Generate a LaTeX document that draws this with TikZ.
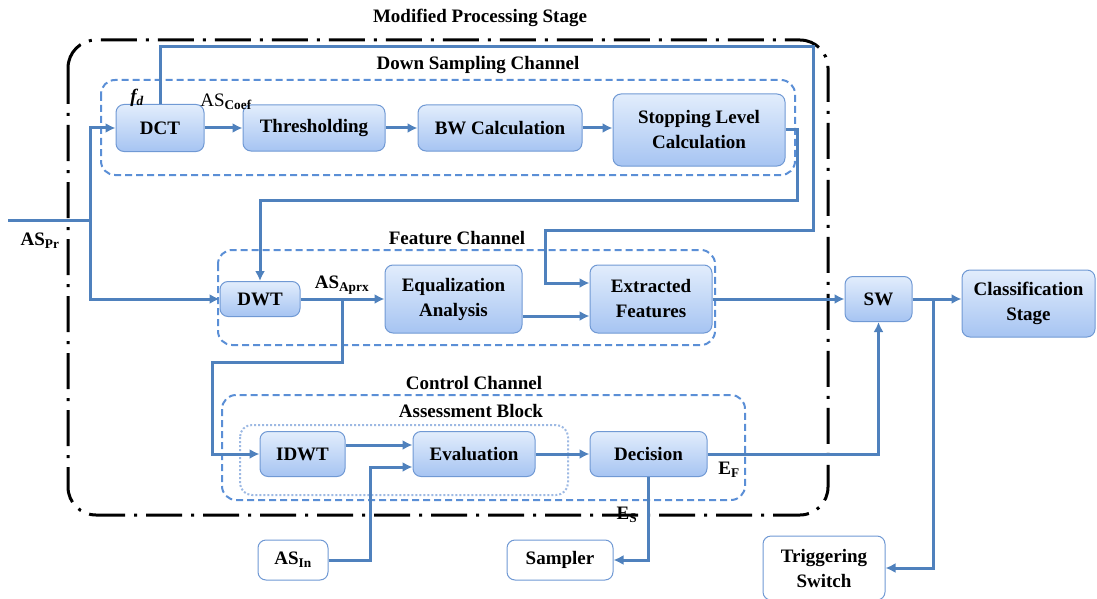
\documentclass[tikz,border=0pt]{standalone}
\usepackage{fontspec}
\setmainfont{Liberation Serif}
\usetikzlibrary{arrows.meta}
\definecolor{ln}{HTML}{4F81BD}
\definecolor{bx}{HTML}{7099D4}
\definecolor{dsh}{HTML}{5B8FD6}
\definecolor{dot}{HTML}{9DB9E3}
\definecolor{topc}{HTML}{E2EDFC}
\definecolor{botc}{HTML}{A6C4F2}
\newcommand{\fs}{\bfseries\fontsize{19}{25}\selectfont}
\begin{document}
\begin{tikzpicture}[x=1pt,y=-1pt,
  blk/.style={draw=bx, line width=1pt, rounded corners=8pt, top color=topc, bottom color=botc, font=\fs, align=center, inner sep=0pt},
  wblk/.style={draw=bx, line width=1pt, rounded corners=8pt, fill=white, font=\fs, align=center, inner sep=0pt},
  con/.style={draw=ln, line width=3pt},
  arr/.style={con, -{Latex[length=10pt,width=10pt]}},
  grp/.style={draw=dsh, line width=2pt, dash pattern=on 7pt off 4pt, rounded corners=14pt},
  lab/.style={font=\fs, inner sep=0pt}
]
\useasboundingbox (0,0) rectangle (1097,599);

% groups
\draw[black, line width=3pt, dash pattern=on 36pt off 9pt on 3pt off 9pt, rounded corners=28pt] (68,40) rectangle (828,515);
\draw[grp] (101,80) rectangle (795,175);
\draw[grp] (218,250) rectangle (715,345);
\draw[grp] (222,395) rectangle (745,500);
\draw[draw=dot, line width=2pt, dotted, rounded corners=12pt] (240,425) rectangle (568,495);

% labels
\node[lab] (tMPS) at (480,18) {Modified Processing Stage};
\node[lab] (tDSC) at (478,65) {Down Sampling Channel};
\node[lab] (tFC) at (457,238) {Feature Channel};
\node[lab] (tCC) at (474,383) {Control Channel};
\node[lab] (tAB) at (471,411) {Assessment Block};

% blocks
\node[blk, minimum width=88pt, minimum height=47pt] (DCT) at (160,128) {DCT};
\node[blk, minimum width=142pt, minimum height=46pt] (THR) at (314,128) {Thresholding};
\node[blk, minimum width=164pt, minimum height=46pt] (BW) at (500,128) {BW Calculation};
\node[blk, minimum width=172pt, minimum height=72pt] (SL) at (699,130) {Stopping Level\\Calculation};
\node[blk, minimum width=80pt, minimum height=35pt] (DWT) at (260,299) {DWT};
\node[blk, minimum width=137pt, minimum height=68pt] (EQ) at (453.5,299) {Equalization\\Analysis};
\node[blk, minimum width=122pt, minimum height=68pt] (EF) at (651,299) {Extracted\\Features};
\node[blk, minimum width=67pt, minimum height=45pt] (SW) at (878.5,299) {SW};
\node[blk, minimum width=133pt, minimum height=67pt] (CS) at (1028.5,303.5) {Classification\\Stage};
\node[blk, minimum width=85pt, minimum height=45pt] (IDWT) at (302.5,454) {IDWT};
\node[blk, minimum width=122pt, minimum height=45pt] (EV) at (474,454) {Evaluation};
\node[blk, minimum width=117pt, minimum height=45pt] (DEC) at (648.5,454) {Decision};
\node[wblk, minimum width=70pt, minimum height=40pt] (ASIN) at (293,560) {AS\textsubscript{In}};
\node[wblk, minimum width=106pt, minimum height=40pt] (SAM) at (560,560) {Sampler};
\node[wblk, minimum width=122pt, minimum height=64pt] (TS) at (824,568) {Triggering\\Switch};

% small labels
\node[lab, font=\fs\itshape] (lfd) at (137,98) {f\textsubscript{d}};
\node[lab, font=\fontsize{19}{25}\selectfont] (lcoef) at (226,102) {AS\textsubscript{\bfseries Coef}};
\node[lab] (lpr) at (40,241) {AS\textsubscript{Pr}};
\node[lab] (lap) at (342,285) {AS\textsubscript{Aprx}};
\node[lab] (lef) at (729,470) {E\textsubscript{F}};
\node[lab] (les) at (627,515) {E\textsubscript{S}};

% coordinates
\coordinate (in) at (8,220);
\coordinate (j) at (90,220);
\coordinate (c1) at (813,47);
\coordinate (c2) at (813,230);
\coordinate (c3) at (545,283);
\coordinate (s1) at (797,200);
\coordinate (b1) at (342,299);
\coordinate (b2) at (212,362);
\coordinate (e1) at (0,316);
\coordinate (i1) at (0,445);
\coordinate (a1) at (370,467);
\coordinate (sb) at (933,299);

% connectors
\draw[con] (in) -- (j);
\draw[arr] (j) |- (DCT.west);
\draw[arr] (j) |- (DWT.west);
\draw[arr] (DCT) -- (THR);
\draw[arr] (THR) -- (BW);
\draw[arr] (BW.east) -- (SL.west|-BW.east);
\draw[arr] (DCT.north) |- (c1) -- (c2) -| (c3) -- (EF.west|-c3);
\draw[arr] (SL.east) -| (s1) -| (DWT.north);
\draw[arr] (DWT) -- (EQ);
\draw[arr] (b1) |- (b2) |- (IDWT.west);
\draw[arr] (EQ.east|-e1) -- (EF.west|-e1);
\draw[arr] (EF) -- (SW);
\draw[arr] (SW.east) -- (CS.west|-SW.east);
\draw[arr] (sb) |- (TS.east);
\draw[arr] (IDWT.east|-i1) -- (EV.west|-i1);
\draw[arr] (ASIN.east) -| (a1) -- (EV.west|-a1);
\draw[arr] (EV) -- (DEC);
\draw[arr] (DEC.east) -| (SW.south);
\draw[arr] (DEC.south) |- (SAM.east);
\end{tikzpicture}
\end{document}
